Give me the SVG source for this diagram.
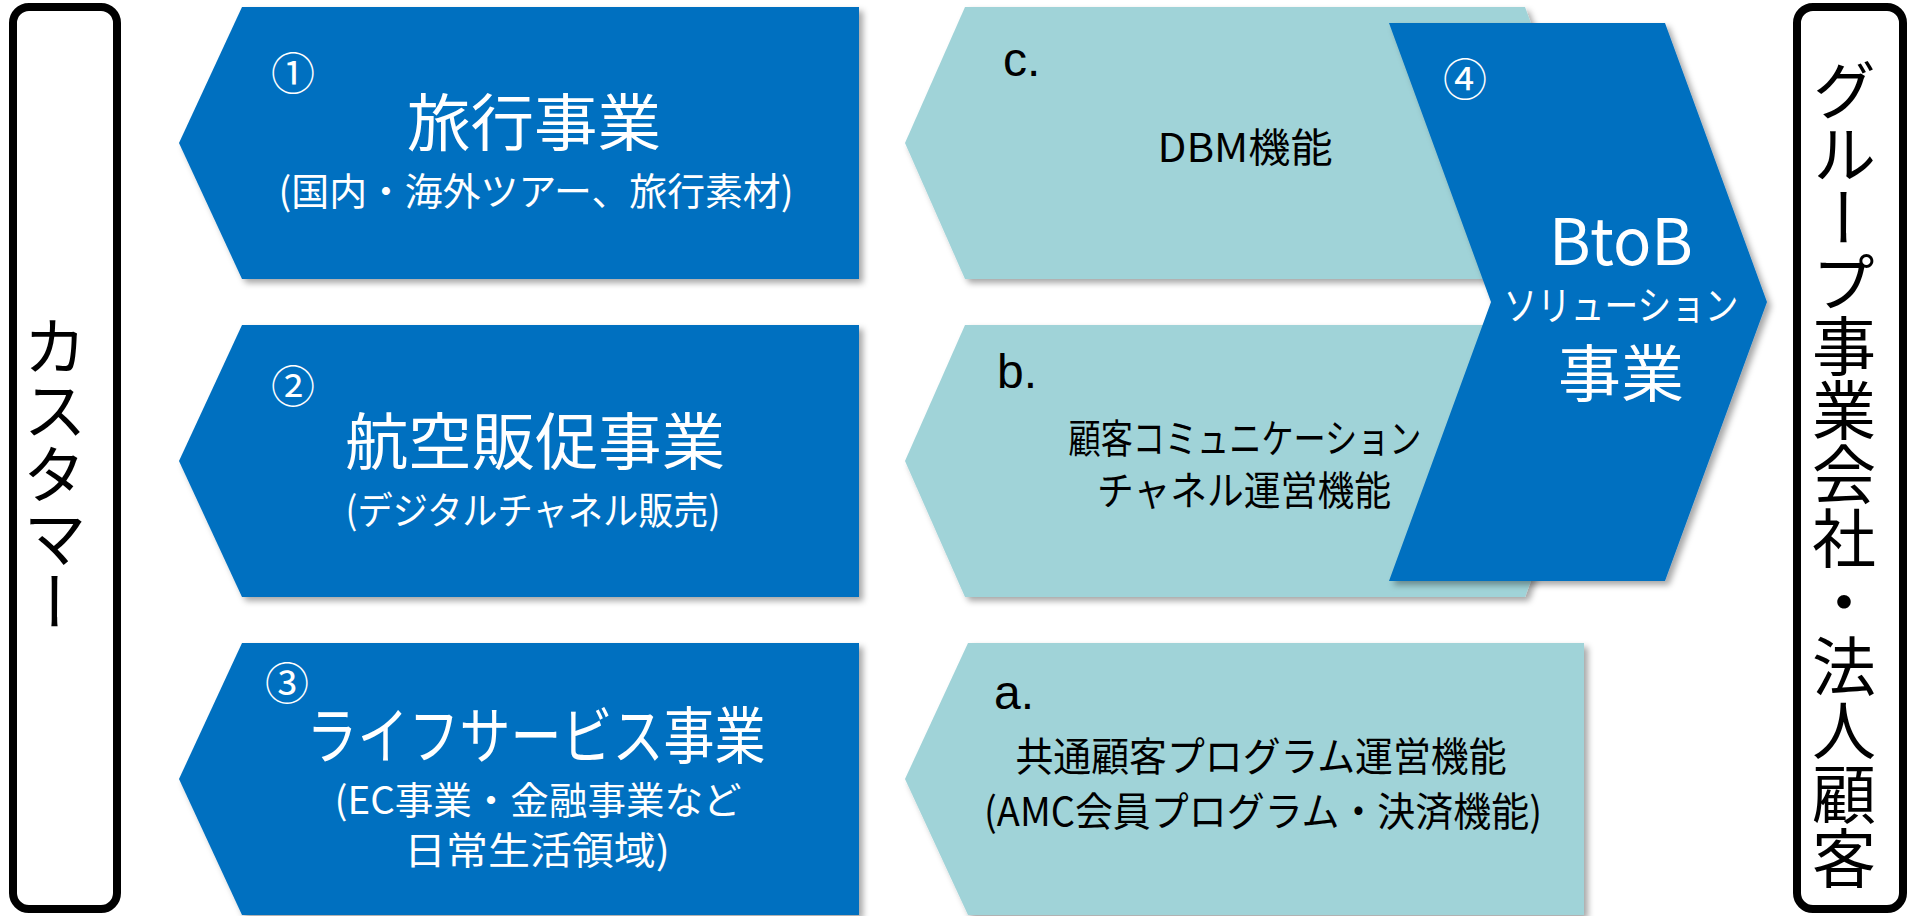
<svg xmlns="http://www.w3.org/2000/svg" width="1912" height="916" viewBox="0 0 1912 916">
<defs>
<style>
.blue{fill:#0070C0;}
.teal{fill:#A0D3D8;}
.frame{fill:#FFFFFF;stroke:#000000;stroke-width:8;}
text{font-family:"Noto Sans CJK JP","Noto Sans",sans-serif;}
.w{fill:#FFFFFF;text-anchor:middle;dominant-baseline:central;}
.k{fill:#000000;text-anchor:middle;dominant-baseline:central;}
.lbl{fill:#000000;font-size:48px;font-family:"Liberation Sans",Arial,sans-serif;}
.big{font-size:62px;}
.mid{font-size:38px;}
.num{font-size:44px;}
.sm{font-size:40px;}
.vert{fill:#000000;font-size:64px;writing-mode:vertical-rl;text-anchor:middle;}
</style>
<filter id="sh" x="-10%" y="-10%" width="130%" height="130%">
<feDropShadow dx="4" dy="4" stdDeviation="3" flood-color="#000000" flood-opacity="0.35"/>
</filter>
</defs>
<rect width="1912" height="916" fill="#FFFFFF"/>

<g id="customer">
<rect class="frame" x="13" y="7" width="104" height="902" rx="16"/>
<text class="vert" x="55" y="474">カスタマー</text>
</g>

<g id="group-corporate">
<rect class="frame" x="1797" y="7" width="106" height="902" rx="16"/>
<text class="vert" x="1844" y="474">グループ事業会社・法人顧客</text>
</g>

<g id="travel">
<polygon class="blue" filter="url(#sh)" points="242,7 859,7 859,279 242,279 179,143"/>
<text class="w num" x="293" y="71">①</text>
<text class="w big" x="534" y="119" textLength="254" lengthAdjust="spacingAndGlyphs">旅行事業</text>
<text class="w mid" x="536" y="188" textLength="515" lengthAdjust="spacingAndGlyphs">(国内・海外ツアー、旅行素材)</text>
</g>

<g id="airline">
<polygon class="blue" filter="url(#sh)" points="242,325 859,325 859,597 242,597 179,461"/>
<text class="w num" x="293" y="384">②</text>
<text class="w big" x="535" y="438" textLength="380" lengthAdjust="spacingAndGlyphs">航空販促事業</text>
<text class="w mid" x="533" y="507" textLength="375" lengthAdjust="spacingAndGlyphs">(デジタルチャネル販売)</text>
</g>

<g id="life">
<polygon class="blue" filter="url(#sh)" points="242,643 859,643 859,915 242,915 179,779"/>
<text class="w num" x="287" y="681">③</text>
<text class="w big" x="536" y="732" textLength="459" lengthAdjust="spacingAndGlyphs">ライフサービス事業</text>
<text class="w mid" x="538" y="797" textLength="407" lengthAdjust="spacingAndGlyphs">(EC事業・金融事業など</text>
<text class="w mid" x="537" y="847" textLength="266" lengthAdjust="spacingAndGlyphs">日常生活領域)</text>
</g>

<g id="dbm">
<polygon class="teal" filter="url(#sh)" points="965,7 1525,7 1575,143 1525,279 965,279 905,143"/>
<text class="lbl" x="1003" y="76">c.</text>
<text class="k sm" x="1245" y="145" textLength="175" lengthAdjust="spacingAndGlyphs">DBM機能</text>
</g>

<g id="channel">
<polygon class="teal" filter="url(#sh)" points="965,325 1525,325 1575,461 1525,597 965,597 905,461"/>
<text class="lbl" x="997" y="388">b.</text>
<text class="k sm" x="1245" y="436" textLength="353" lengthAdjust="spacingAndGlyphs">顧客コミュニケーション</text>
<text class="k sm" x="1244" y="488" textLength="294" lengthAdjust="spacingAndGlyphs">チャネル運営機能</text>
</g>

<g id="program">
<polygon class="teal" filter="url(#sh)" points="968,643 1584,643 1584,915 968,915 905,779"/>
<text class="lbl" x="994" y="709">a.</text>
<text class="k sm" x="1261" y="754" textLength="491" lengthAdjust="spacingAndGlyphs">共通顧客プログラム運営機能</text>
<text class="k sm" x="1263" y="809" textLength="558" lengthAdjust="spacingAndGlyphs">(AMC会員プログラム・決済機能)</text>
</g>

<g id="btob">
<polygon class="blue" filter="url(#sh)" points="1389,23 1665,23 1767,302 1665,581 1389,581 1491,302"/>
<text class="w num" x="1465" y="77">④</text>
<text class="w" x="1621" y="237" font-size="64" textLength="144" lengthAdjust="spacingAndGlyphs">BtoB</text>
<text class="w sm" x="1621" y="303" textLength="235" lengthAdjust="spacingAndGlyphs">ソリューション</text>
<text class="w big" x="1621" y="370" textLength="126" lengthAdjust="spacingAndGlyphs">事業</text>
</g>

<g id="connectors"></g>
</svg>
